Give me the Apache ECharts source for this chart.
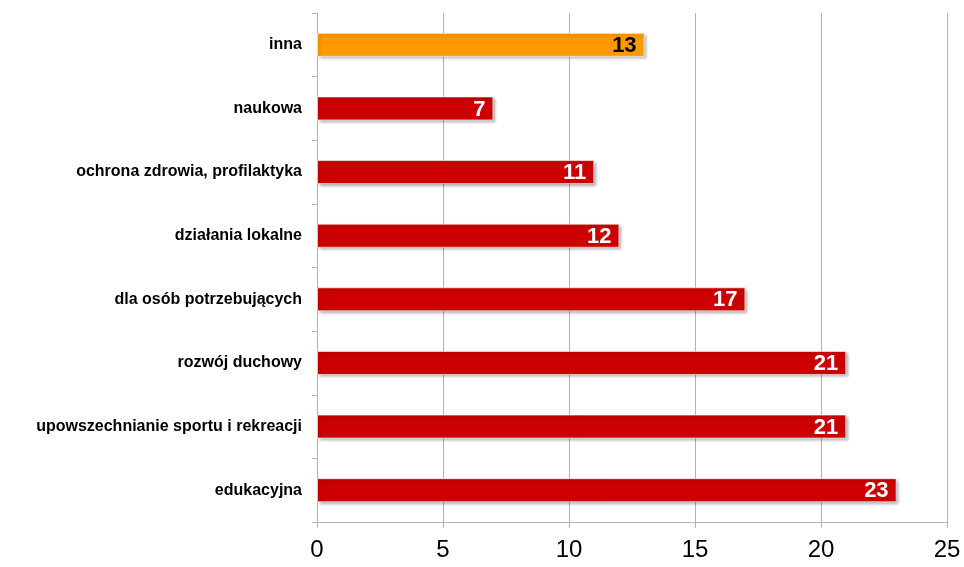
<!DOCTYPE html>
<html><head><meta charset="utf-8">
<script src="https://cdn.jsdelivr.net/npm/echarts@6/dist/echarts.min.js"></script>
<style>html,body{margin:0;padding:0;background:#fff}#c{width:964px;height:567px}</style>
</head><body><div id="c"></div>
<script>
var categories = ["edukacyjna","upowszechnianie sportu i rekreacji","rozwój duchowy","dla osób potrzebujących","działania lokalne","ochrona zdrowia, profilaktyka","naukowa","inna"];
var values = [23,21,21,17,12,11,7,13];
var highlight = "inna";
var xTicks = [0,5,10,15,20,25];

var chart = echarts.init(document.getElementById('c'));
chart.setOption({
  animation:false,
  grid:{left:317,right:17,top:13,bottom:45},
  xAxis:{type:'value',min:xTicks[0],max:xTicks[xTicks.length-1],interval:5,
    axisLine:{show:true,lineStyle:{color:'#b3b3b3'}},
    axisTick:{show:true,length:6,lineStyle:{color:'#b3b3b3'}},
    splitLine:{show:true,lineStyle:{color:'#b3b3b3'}},
    axisLabel:{fontFamily:'Liberation Sans, Arial',fontSize:24,color:'#000',margin:16}},
  yAxis:{type:'category',data:categories,
    axisLine:{show:true,lineStyle:{color:'#b3b3b3'}},
    axisTick:{show:true,length:5,lineStyle:{color:'#b3b3b3'}},
    axisLabel:{fontFamily:'Liberation Sans, Arial',fontSize:16,fontWeight:'bold',color:'#000',margin:15}},
  series:[{type:'bar',barWidth:24,
    data:values.map(function(v,i){
      var hi = categories[i]===highlight;
      return {value:v,itemStyle:{color:hi?'#ff9900':'#cc0000'},
        label:{color:hi?'#000':'#fff'}};
    }),
    itemStyle:{borderColor:'rgba(255,255,255,0.6)',borderWidth:1,shadowBlur:3,shadowOffsetX:2,shadowOffsetY:2,shadowColor:'rgba(0,0,0,0.35)'},
    label:{show:true,position:'insideRight',offset:[-3,1],fontFamily:'Liberation Sans, Arial',fontSize:22,fontWeight:'bold'}
  }]
});
</script></body></html>
